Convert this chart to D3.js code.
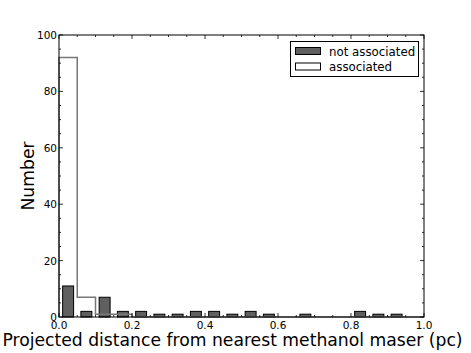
<!DOCTYPE html>
<html>
<head>
<meta charset="utf-8">
<script src="https://cdn.jsdelivr.net/npm/d3@7"></script>
<style>
  body { margin: 0; background: #fff; }
  text { font-family: "DejaVu Sans", sans-serif; }
</style>
</head>
<body>
<svg id="chart" width="471" height="353"></svg>
<script>
"use strict";

// histogram bins, width 0.05 pc
const binEdges = [0, 0.05, 0.1, 0.15, 0.2, 0.25, 0.3, 0.35, 0.4, 0.45, 0.5,
  0.55, 0.6, 0.65, 0.7, 0.75, 0.8, 0.85, 0.9, 0.95, 1.0];
const notAssociated = [11, 2, 7, 2, 2, 1, 1, 2, 2, 1, 2, 1, 0, 1, 0, 0, 2, 1, 1, 0];
const associated = [92, 7, 1, 1, 0, 0, 0, 0, 0, 0, 0, 0, 0, 0, 0, 0, 0, 0, 0, 0];
const xTicks = [0, 0.2, 0.4, 0.6, 0.8, 1.0];
const yTicks = [0, 20, 40, 60, 80, 100];

const PLOT = { LEFT: 59, RIGHT: 424, TOP: 35, BOTTOM: 317 };
const RWIDTH = 0.6;

const svg = d3.select("#chart");
const x = d3.scaleLinear().domain([0, 1]).range([PLOT.LEFT, PLOT.RIGHT]);
const y = d3.scaleLinear().domain([0, 100]).range([PLOT.BOTTOM, PLOT.TOP]);

const bins = notAssociated.map((v, i) => ({ x0: binEdges[i], x1: binEdges[i + 1], v: v }));

// filled bars
svg.append("g").selectAll("rect").data(bins.filter(d => d.v > 0)).enter().append("rect")
  .attr("x", d => {
    const w = x(d.x1) - x(d.x0);
    return x(d.x0) + w * (1 - RWIDTH) / 2;
  })
  .attr("y", d => y(d.v))
  .attr("width", d => (x(d.x1) - x(d.x0)) * RWIDTH)
  .attr("height", d => y(0) - y(d.v))
  .attr("fill", "#606060").attr("stroke", "#000").attr("stroke-width", 1);

// step outline for the associated sample
const stepPts = [[binEdges[0], 0]];
associated.forEach((v, i) => {
  stepPts.push([binEdges[i], v]);
  stepPts.push([binEdges[i + 1], v]);
});
stepPts.push([binEdges[binEdges.length - 1], 0]);
svg.append("path")
  .attr("d", d3.line().x(d => x(d[0])).y(d => y(d[1]))(stepPts))
  .attr("fill", "none").attr("stroke", "#777").attr("stroke-width", 1.5);

// frame
svg.append("rect")
  .attr("x", PLOT.LEFT).attr("y", PLOT.TOP)
  .attr("width", PLOT.RIGHT - PLOT.LEFT).attr("height", PLOT.BOTTOM - PLOT.TOP)
  .attr("fill", "none").attr("stroke", "#000").attr("stroke-width", 1);

// ticks, drawn inward on all four sides
const ticks = svg.append("g").attr("stroke", "#000").attr("stroke-width", 0.8);
d3.range(0, 1.0001, 0.05).forEach(t => {
  const major = xTicks.some(m => Math.abs(m - t) < 1e-6);
  const len = major ? 4 : 2;
  ticks.append("line").attr("x1", x(t)).attr("x2", x(t)).attr("y1", PLOT.BOTTOM).attr("y2", PLOT.BOTTOM - len);
  ticks.append("line").attr("x1", x(t)).attr("x2", x(t)).attr("y1", PLOT.TOP).attr("y2", PLOT.TOP + len);
});
d3.range(0, 101, 5).forEach(t => {
  const major = t % 20 === 0;
  const len = major ? 4 : 2;
  ticks.append("line").attr("y1", y(t)).attr("y2", y(t)).attr("x1", PLOT.LEFT).attr("x2", PLOT.LEFT + len);
  ticks.append("line").attr("y1", y(t)).attr("y2", y(t)).attr("x1", PLOT.RIGHT).attr("x2", PLOT.RIGHT - len);
});

// tick labels (the "0" and "0.0" overlap in the original too)
svg.append("g").selectAll("text").data(xTicks).enter().append("text")
  .attr("x", d => x(d)).attr("y", PLOT.BOTTOM + 12)
  .attr("text-anchor", "middle").attr("font-size", 10.5)
  .text(d => d.toFixed(1));
svg.append("g").selectAll("text").data(yTicks).enter().append("text")
  .attr("x", PLOT.LEFT - 2).attr("y", d => y(d) + 4)
  .attr("text-anchor", "end").attr("font-size", 10.5)
  .text(d => d);

// axis titles
svg.append("text")
  .attr("x", 232.5).attr("y", 346)
  .attr("text-anchor", "middle").attr("font-size", 17.2)
  .text("Projected distance from nearest methanol maser (pc)");
svg.append("text")
  .attr("transform", `translate(34, ${(PLOT.TOP + PLOT.BOTTOM) / 2}) rotate(-90)`)
  .attr("text-anchor", "middle").attr("font-size", 17.2)
  .text("Number");

// legend
const legend = svg.append("g");
legend.append("rect").attr("x", 290.5).attr("y", 41.5).attr("width", 128).attr("height", 35)
  .attr("fill", "#fff").attr("stroke", "#000").attr("stroke-width", 1);
const legendItems = [
  { label: "not associated", fill: "#606060" },
  { label: "associated", fill: "#fff" }
];
legendItems.forEach((d, i) => {
  const yy = 47.5 + i * 15.5;
  legend.append("rect").attr("x", 295.5).attr("y", yy).attr("width", 25).attr("height", 7)
    .attr("fill", d.fill).attr("stroke", "#000").attr("stroke-width", 1);
  legend.append("text").attr("x", 329).attr("y", yy + 8)
    .attr("font-size", 11.8).text(d.label);
});
</script>
</body>
</html>
